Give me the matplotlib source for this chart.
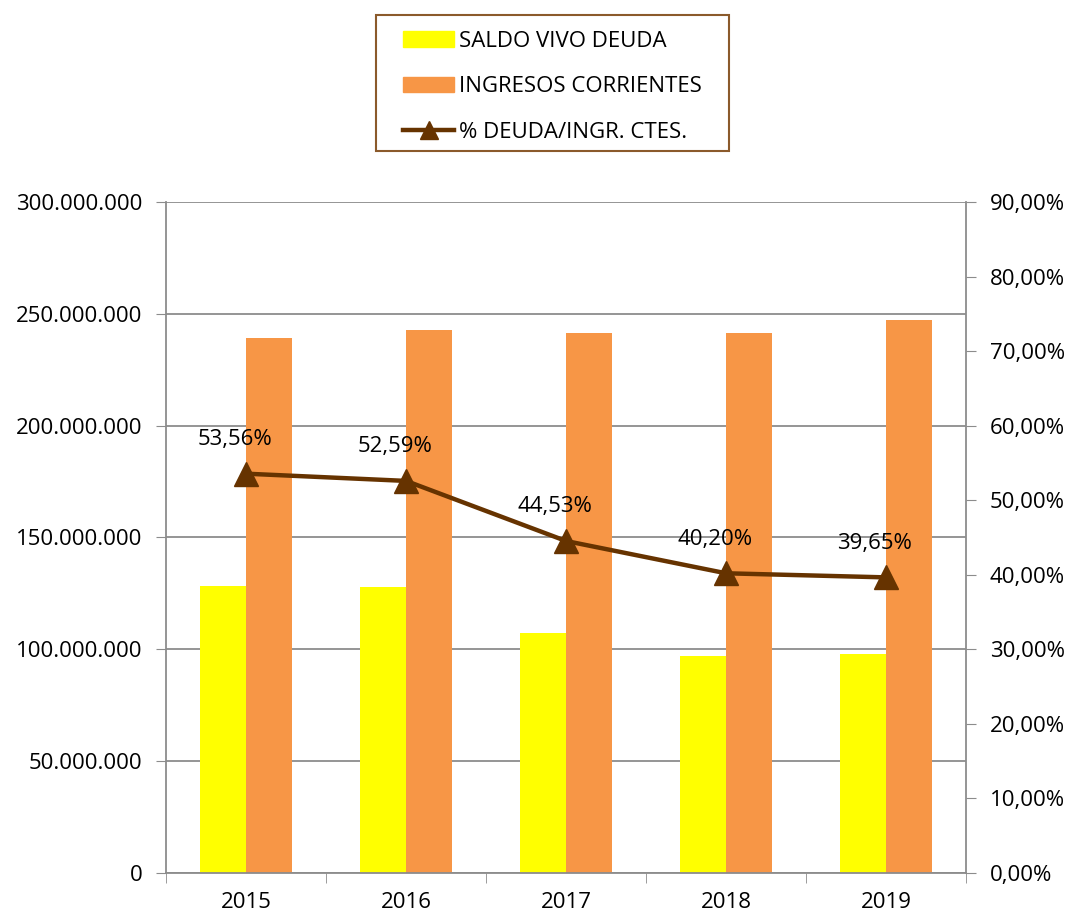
import matplotlib.pyplot as plt
import matplotlib.ticker as mticker
from matplotlib.patches import Patch, Rectangle
from matplotlib.lines import Line2D
import numpy as np

# datos
anios = ['2015', '2016', '2017', '2018', '2019']
saldo_vivo = [128.2e6, 127.7e6, 107.5e6, 97.0e6, 98.0e6]
ingresos = [239.3e6, 242.8e6, 241.4e6, 241.4e6, 247.2e6]
porcentaje = [53.56, 52.59, 44.53, 40.20, 39.65]
etiquetas = ['53,56%', '52,59%', '44,53%', '40,20%', '39,65%']

plt.rcParams['font.family'] = ['Open Sans', 'DejaVu Sans']

def fmt_miles(v, pos):
    return '{:,.0f}'.format(v).replace(',', '.')

def fmt_pct(v, pos):
    return '{:.2f}%'.format(v).replace('.', ',')

def main():
    W, H = 1069, 917
    fig = plt.figure(figsize=(W / 100, H / 100), dpi=100)
    ax = fig.add_axes([0.1553, 0.048, 0.7484, 0.7317])
    x = np.arange(len(anios))
    w = 0.2875
    gris = '#8c8c8c'

    ax.bar(x - w / 2, saldo_vivo, w, color='#ffff00', zorder=2)
    ax.bar(x + w / 2, ingresos, w, color='#f79646', zorder=2)
    ax.set_xlim(-0.5, 4.5)
    ax.set_ylim(0, 300e6)
    ax.yaxis.set_major_locator(mticker.MultipleLocator(50e6))
    ax.yaxis.set_major_formatter(mticker.FuncFormatter(fmt_miles))
    ax.grid(axis='y', color=gris, linewidth=1.3, zorder=0)
    ax.set_xticks(x)
    ax.set_xticklabels(anios)
    ax.set_xticks(np.arange(-0.5, 5, 1), minor=True)
    ax.tick_params(axis='x', which='major', length=0, labelsize=16, pad=14)
    ax.tick_params(axis='x', which='minor', length=7, color=gris)
    ax.tick_params(axis='y', length=7, color=gris, labelsize=16, pad=10)
    for s in ['top', 'right']:
        ax.spines[s].set_visible(False)
    for s in ['left', 'bottom']:
        ax.spines[s].set_color(gris)
        ax.spines[s].set_linewidth(1.3)

    ax2 = ax.twinx()
    ax2.plot(x, porcentaje, color='#663300', linewidth=3.2, marker='^',
             markersize=17, zorder=5)
    ax2.set_ylim(0, 90)
    ax2.yaxis.set_major_locator(mticker.MultipleLocator(10))
    ax2.yaxis.set_major_formatter(mticker.FuncFormatter(fmt_pct))
    ax2.tick_params(axis='y', length=7, color=gris, labelsize=16, pad=10)
    for s in ['top', 'left', 'bottom']:
        ax2.spines[s].set_visible(False)
    ax2.spines['right'].set_color(gris)
    ax2.spines['right'].set_linewidth(1.3)
    for xi, p, t in zip(x, porcentaje, etiquetas):
        ax2.annotate(t, (xi, p), xytext=(-8, 17), textcoords='offset points',
                     ha='center', va='bottom', fontsize=16)

    # leyenda con marco dibujado aparte
    handles = [Patch(color='#ffff00'), Patch(color='#f79646'),
               Line2D([], [], color='#663300', linewidth=3.2, marker='^', markersize=13)]
    nombres = ['SALDO VIVO DEUDA', 'INGRESOS CORRIENTES', '% DEUDA/INGR. CTES.']
    fig.legend(handles, nombres, loc='upper left',
               bbox_to_anchor=(403 / W, 1 - 31 / H),
               fontsize=16, frameon=False,
               handlelength=2.3, handleheight=0.7, labelspacing=1.1,
               borderpad=0, handletextpad=0.2, borderaxespad=0)
    fig.patches.append(Rectangle((376 / W, 1 - 151 / H), 353 / W, 136 / H,
                                 transform=fig.transFigure, fill=False,
                                 edgecolor='#8b5a2b', linewidth=1.5))

    fig.savefig('out.png', dpi=100)

if __name__ == '__main__':
    main()
